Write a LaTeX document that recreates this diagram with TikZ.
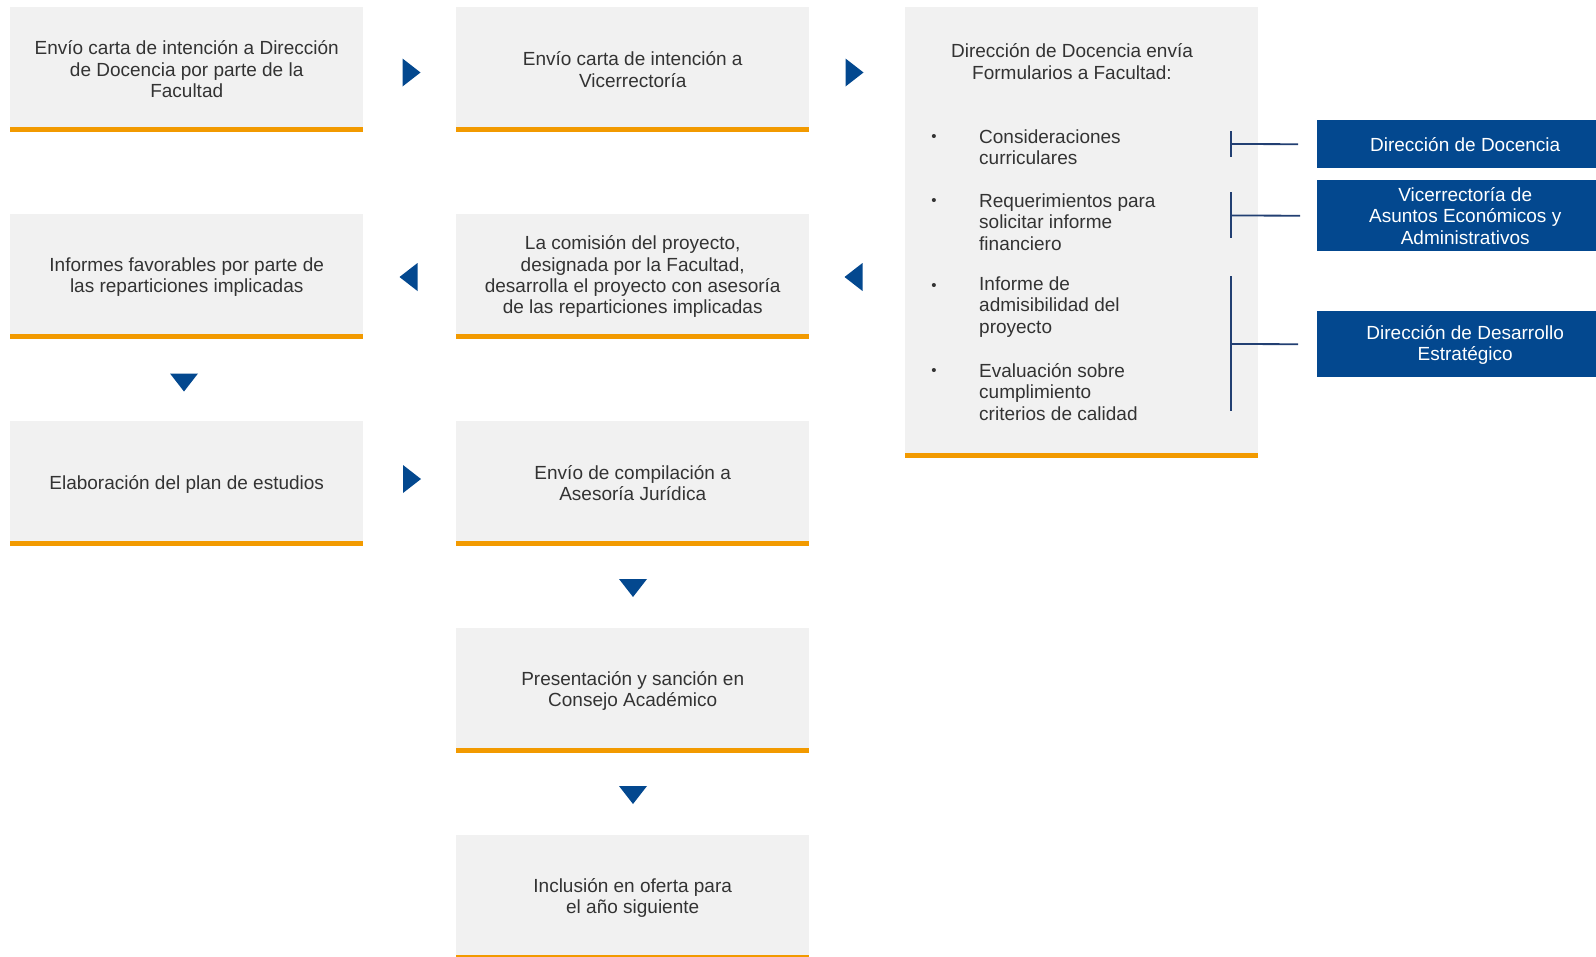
\documentclass[tikz,border=0pt]{standalone}
\usepackage{fontspec}
\setmainfont{Liberation Sans}
\usetikzlibrary{calc}
\definecolor{boxgray}{HTML}{F1F1F1}
\definecolor{barorange}{HTML}{F29A00}
\definecolor{ubblue}{HTML}{03488F}
\definecolor{linkblue}{HTML}{223F72}
\definecolor{txtgray}{HTML}{333333}
\begin{document}
\begin{tikzpicture}[x=1pt,y=-1pt,
  stepbox/.style={fill=boxgray, draw=none, minimum width=353pt, minimum height=120pt,
    inner sep=0pt, anchor=north west},
  steptext/.style={align=center, inner sep=0pt, text=txtgray,
    font=\fontsize{19}{21.4}\selectfont},
  itemtext/.style={anchor=west, align=left, inner sep=0pt, text=txtgray,
    font=\fontsize{19}{21.4}\selectfont},
  bul/.style={inner sep=0pt, text=txtgray, font=\fontsize{15}{15}\selectfont},
  unitbox/.style={fill=ubblue, draw=none, minimum width=296pt, anchor=north west,
    inner sep=0pt, align=center, text=white, font=\fontsize{19}{21.4}\selectfont},
  flowtri/.pic={\fill[ubblue] (-9,-14) -- (9,0) -- (-9,14) -- cycle;},
  bracket/.style={draw=linkblue, line width=1.8pt}
]
\useasboundingbox (0,0) rectangle (1596,956);

% process boxes
\node[stepbox] (b1) at (10,7) {};
\node[stepbox] (b2) at (456,7) {};
\node[stepbox, minimum height=446pt] (b3) at (905,7) {};
\node[stepbox] (b4) at (10,214) {};
\node[stepbox] (b5) at (456,214) {};
\node[stepbox] (b6) at (10,421) {};
\node[stepbox] (b7) at (456,421) {};
\node[stepbox] (b8) at (456,628) {};
\node[stepbox] (b9) at (456,835) {};

\foreach \n in {b1,b2,b3,b4,b5,b6,b7,b8,b9}
  \fill[barorange] (\n.south west) rectangle ($(\n.south east)+(0,5)$);

% box texts
\node[steptext] (b1t) at ($(b1)+(0,2)$) {Envío carta de intención a Dirección\\de Docencia por parte de la\\Facultad};
\node[steptext] (b2t) at ($(b2)+(0,2.5)$) {Envío carta de intención a\\Vicerrectoría};
\node[steptext] (b4t) at ($(b4)+(0,3)$) {Informes favorables por parte de\\las reparticiones implicadas};
\node[steptext] (b5t) at ($(b5)+(0,2.5)$) {La comisión del proyecto,\\designada por la Facultad,\\desarrolla el proyecto con asesoría\\de las reparticiones implicadas};
\node[steptext] (b6t) at ($(b6)+(0,3)$) {Elaboración del plan de estudios};
\node[steptext] (b7t) at ($(b7)+(0,2)$) {Envío de compilación a\\Asesoría Jurídica};
\node[steptext] (b8t) at ($(b8)+(0,3)$) {Presentación y sanción en\\Consejo Académico};
\node[steptext] (b9t) at ($(b9)+(0,3)$) {Inclusión en oferta para\\el año siguiente};

% content of the forms box
\node[steptext] (t3) at (1072,61.5) {Dirección de Docencia envía\\Formularios a Facultad:};
\node[bul] (d1) at (934,138) {•};
\node[bul] (d2) at (934,202) {•};
\node[bul] (d3) at (934,287) {•};
\node[bul] (d4) at (934,372) {•};
\node[itemtext] (i1) at (979,147.5) {Consideraciones\\curriculares};
\node[itemtext] (i2) at (979,222) {Requerimientos para\\solicitar informe\\financiero};
\node[itemtext] (i3) at (979,307) {Informe de\\admisibilidad del\\proyecto};
\node[itemtext] (i4) at (979,392) {Evaluación sobre\\cumplimiento\\criterios de calidad};

% units
\node[unitbox, minimum height=48pt] (u1) at (1317,120) {Dirección de Docencia};
\node[unitbox, minimum height=71pt] (u2) at (1317,180) {Vicerrectoría de\\Asuntos Económicos y\\Administrativos};
\node[unitbox, minimum height=66pt, text depth=2pt] (u3) at (1317,311) {Dirección de Desarrollo\\Estratégico};

% brackets
\coordinate (k1) at (1231,144);
\coordinate (k2) at (1231,215.5);
\coordinate (k3) at (1231,344);
\draw[bracket] (1231,131) -- (1231,157);
\draw[bracket] (1231,192) -- (1231,238);
\draw[bracket] (1231,276) -- (1231,411);
\draw[bracket] (k1) -- ($(u1.west)+(-19,0)$);
\draw[bracket] (k2) -- ($(u2.west)+(-17,0)$);
\draw[bracket] (k3) -- ($(u3.west)+(-19,0)$);

% flow triangles
\pic at (411.5,72.5) {flowtri};
\pic at (854.5,72.5) {flowtri};
\pic[rotate=180] at (408.5,277) {flowtri};
\pic[rotate=180] at (853.5,277) {flowtri};
\pic[rotate=-90] at (184,382.5) {flowtri};
\pic at (412,479) {flowtri};
\pic[rotate=-90] at (633,588) {flowtri};
\pic[rotate=-90] at (633,795) {flowtri};
\end{tikzpicture}
\end{document}
